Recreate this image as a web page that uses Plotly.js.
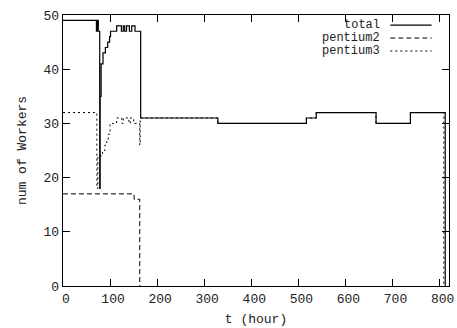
<!DOCTYPE html>
<html><head><meta charset="utf-8">
<script src="https://cdn.plot.ly/plotly-3.0.1.min.js"></script>
<style>html,body{margin:0;padding:0;background:#fff}#c{width:457px;height:328px}</style>
</head><body><div id="c"></div>
<script>
// step data (t in hours, value = number of workers), drawn with hv steps
const totalT = [0, 71, 73, 75, 78, 79, 81, 85, 90, 95, 99, 101, 114, 124, 128, 131, 135, 141, 146, 153, 165, 165, 329, 517, 538, 665, 738, 812, 812];
const totalV = [49, 47, 49, 47, 18, 35, 41, 43, 44, 45, 46, 47, 48, 47, 48, 47, 48, 47, 48, 47, 42, 31, 30, 31, 32, 30, 32, 0, 0];
const p2T = [0, 151, 163, 164];
const p2V = [17, 16, 0, 0];
const p3T = [0, 72, 74, 84, 89, 93, 96, 100, 107, 114, 125, 128, 140, 143, 150, 163, 164, 329, 517, 538, 665, 738, 809, 809];
const p3V = [32, 18, 24, 25, 26, 27, 28, 30, 30, 31, 30, 31, 30, 31, 30, 26, 31, 30, 31, 32, 30, 32, 0, 0];
const seriesNames = ["total", "pentium2", "pentium3"];
const xTicks = [0, 100, 200, 300, 400, 500, 600, 700, 800];
const yTicks = [0, 10, 20, 30, 40, 50];

const font = "Liberation Mono, Courier New, monospace";
const traces = [
  {x: totalT, y: totalV, name: seriesNames[0], mode: "lines", line: {shape: "hv", color: "#000", width: 1.2, dash: "solid"}},
  {x: p2T, y: p2V, name: seriesNames[1], mode: "lines", line: {shape: "hv", color: "#000", width: 1, dash: "5px,3px"}},
  {x: p3T, y: p3V, name: seriesNames[2], mode: "lines", line: {shape: "hv", color: "#000", width: 1, dash: "2px,3px"}}
];
const dashes = ["solid", "5px,3px", "2px,3px"];
const legY = [0.963, 0.915, 0.867];
const annotations = seriesNames.map((n, i) => ({
  xref: "paper", yref: "paper", x: 0.825, y: legY[i], xanchor: "right", yanchor: "middle",
  borderpad: 0,
  text: n, showarrow: false, font: {family: font, size: 12, color: "#222"}
}));
const shapes = seriesNames.map((n, i) => ({
  type: "line", xref: "paper", yref: "paper", x0: 0.848, x1: 0.955, y0: legY[i], y1: legY[i],
  line: {color: "#000", width: i === 0 ? 1.2 : 1, dash: dashes[i]}
}));
const axisCommon = {
  showline: true, linecolor: "#000", linewidth: 1.3, mirror: "allticks",
  ticks: "inside", ticklen: 7, tickwidth: 1, tickcolor: "#000",
  showgrid: false, zeroline: false,
  tickfont: {family: font, size: 13, color: "#222"}
};
const layout = {
  width: 457, height: 328,
  margin: {l: 63, r: 8, t: 15, b: 42},
  paper_bgcolor: "#fff", plot_bgcolor: "#fff",
  showlegend: false,
  xaxis: Object.assign({}, axisCommon, {
    range: [0, 820], tickvals: xTicks, ticktext: xTicks.map(String),
    ticklabelshift: 3,
    title: {text: "t (hour)", font: {family: font, size: 13, color: "#222"}, standoff: 8}
  }),
  yaxis: Object.assign({}, axisCommon, {
    range: [0, 50], tickvals: yTicks, ticktext: yTicks.map(String),
    title: {text: "num of Workers", font: {family: font, size: 13, color: "#222"}, standoff: 14}
  }),
  annotations: annotations, shapes: shapes
};
Plotly.newPlot("c", traces, layout, {displayModeBar: false, staticPlot: true});
</script></body></html>
